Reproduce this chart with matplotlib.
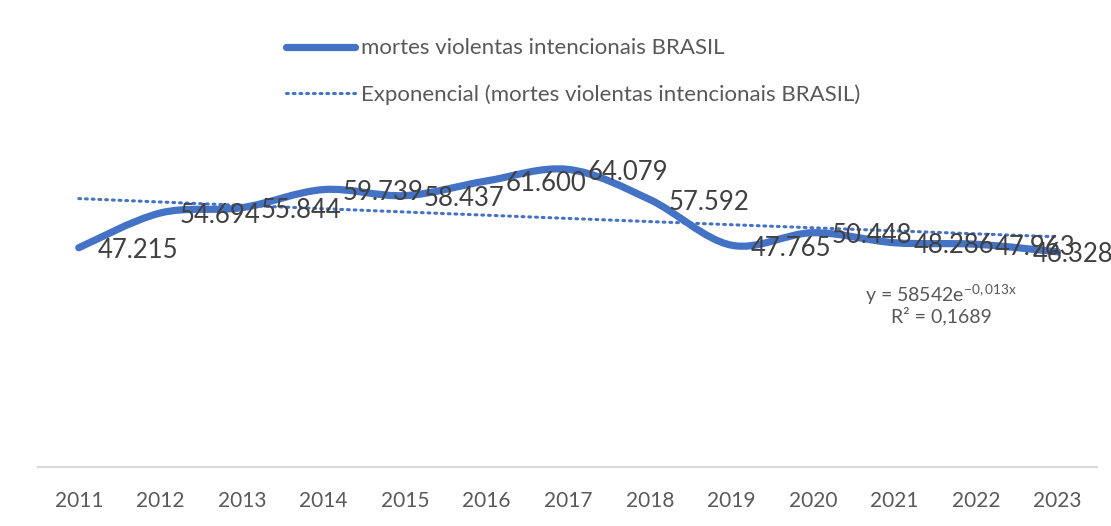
import numpy as np
import matplotlib
matplotlib.use("Agg")
import matplotlib.pyplot as plt
from matplotlib.path import Path
from matplotlib.patches import PathPatch
from matplotlib.lines import Line2D

plt.rcParams['font.family'] = ['Lato', 'DejaVu Sans']
plt.rcParams['mathtext.default'] = 'regular'

# dados
anos = [2011, 2012, 2013, 2014, 2015, 2016, 2017, 2018, 2019, 2020, 2021, 2022, 2023]
mortes = [47215, 54694, 55844, 59739, 58437, 61600, 64079, 57592, 47765, 50448, 48286, 47963, 46328]
rotulos = ["47.215", "54.694", "55.844", "59.739", "58.437", "61.600", "64.079",
           "57.592", "47.765", "50.448", "48.286", "47.963", "46.328"]

azul = "#4472C4"
cinza = "#595959"

fig = plt.figure(figsize=(11.11, 5.26), dpi=100)
ax = fig.add_axes([0.0342, 0.1122, 0.953, 0.618])

x = np.array(anos, dtype=float)
y = np.array(mortes, dtype=float)

# linha suavizada (bezier tipo excel)
pts = np.column_stack([x, y])
ext = np.vstack([pts[0], pts, pts[-1]])
verts = [tuple(pts[0])]
codes = [Path.MOVETO]
for i in range(len(pts) - 1):
    p0, p1, p2, p3 = ext[i], ext[i + 1], ext[i + 2], ext[i + 3]
    c1 = p1 + (p2 - p0) / 6
    c2 = p2 - (p3 - p1) / 6
    verts += [tuple(c1), tuple(c2), tuple(p2)]
    codes += [Path.CURVE4] * 3
ax.add_patch(PathPatch(Path(verts, codes), fill=False, edgecolor=azul,
                       lw=5.2, capstyle='round', joinstyle='round', zorder=3))

# linha de tendencia exponencial
n = np.arange(1, len(y) + 1)
b, a = np.polyfit(n, np.log(y), 1)
ax.plot(x, np.exp(a) * np.exp(b * n), color=azul, lw=2.2, ls=(0, (0.6, 1.6)),
        dash_capstyle='round', zorder=2)

# rotulos de dados
for i, (xi, yi, t) in enumerate(zip(x, y, rotulos)):
    dx = 19 if i < len(x) - 1 else -25
    ax.annotate(t, (xi, yi), xytext=(dx, -3), textcoords='offset pixels',
                ha='left', va='center', fontsize=18.5, color="#404040", zorder=4,
                annotation_clip=False)

ax.text(941 / 1111, 1 - 295 / 526, "y = 58542e$^{-0,013x}$", transform=fig.transFigure,
        ha='center', va='center', fontsize=14, color=cinza)
ax.text(941 / 1111, 1 - 316 / 526, "R² = 0,1689", transform=fig.transFigure,
        ha='center', va='center', fontsize=14, color=cinza)

ax.set_xlim(2010.5, 2023.48)
ax.set_ylim(0, 70000)
ax.set_xticks(anos)
ax.set_xticklabels([str(a_) for a_ in anos], fontsize=15, color=cinza)
ax.tick_params(axis='x', length=0, pad=17)
ax.set_yticks([])
for s in ['top', 'right', 'left']:
    ax.spines[s].set_visible(False)
ax.spines['bottom'].set_color("#D9D9D9")
ax.spines['bottom'].set_linewidth(1.5)

handles = [Line2D([], [], color=azul, lw=5.2, solid_capstyle='round'),
           Line2D([], [], color=azul, lw=2.2, ls=(0, (0.6, 1.6)), dash_capstyle='round')]
labels = ["mortes violentas intencionais BRASIL",
          "Exponencial (mortes violentas intencionais BRASIL)"]
fig.legend(handles, labels, loc='upper left', bbox_to_anchor=(0.2394, 0.965),
           frameon=False, fontsize=16, labelcolor=cinza, handlelength=3.1,
           handletextpad=0.27, labelspacing=1.15)

fig.savefig("out.png", dpi=100, facecolor='white')
